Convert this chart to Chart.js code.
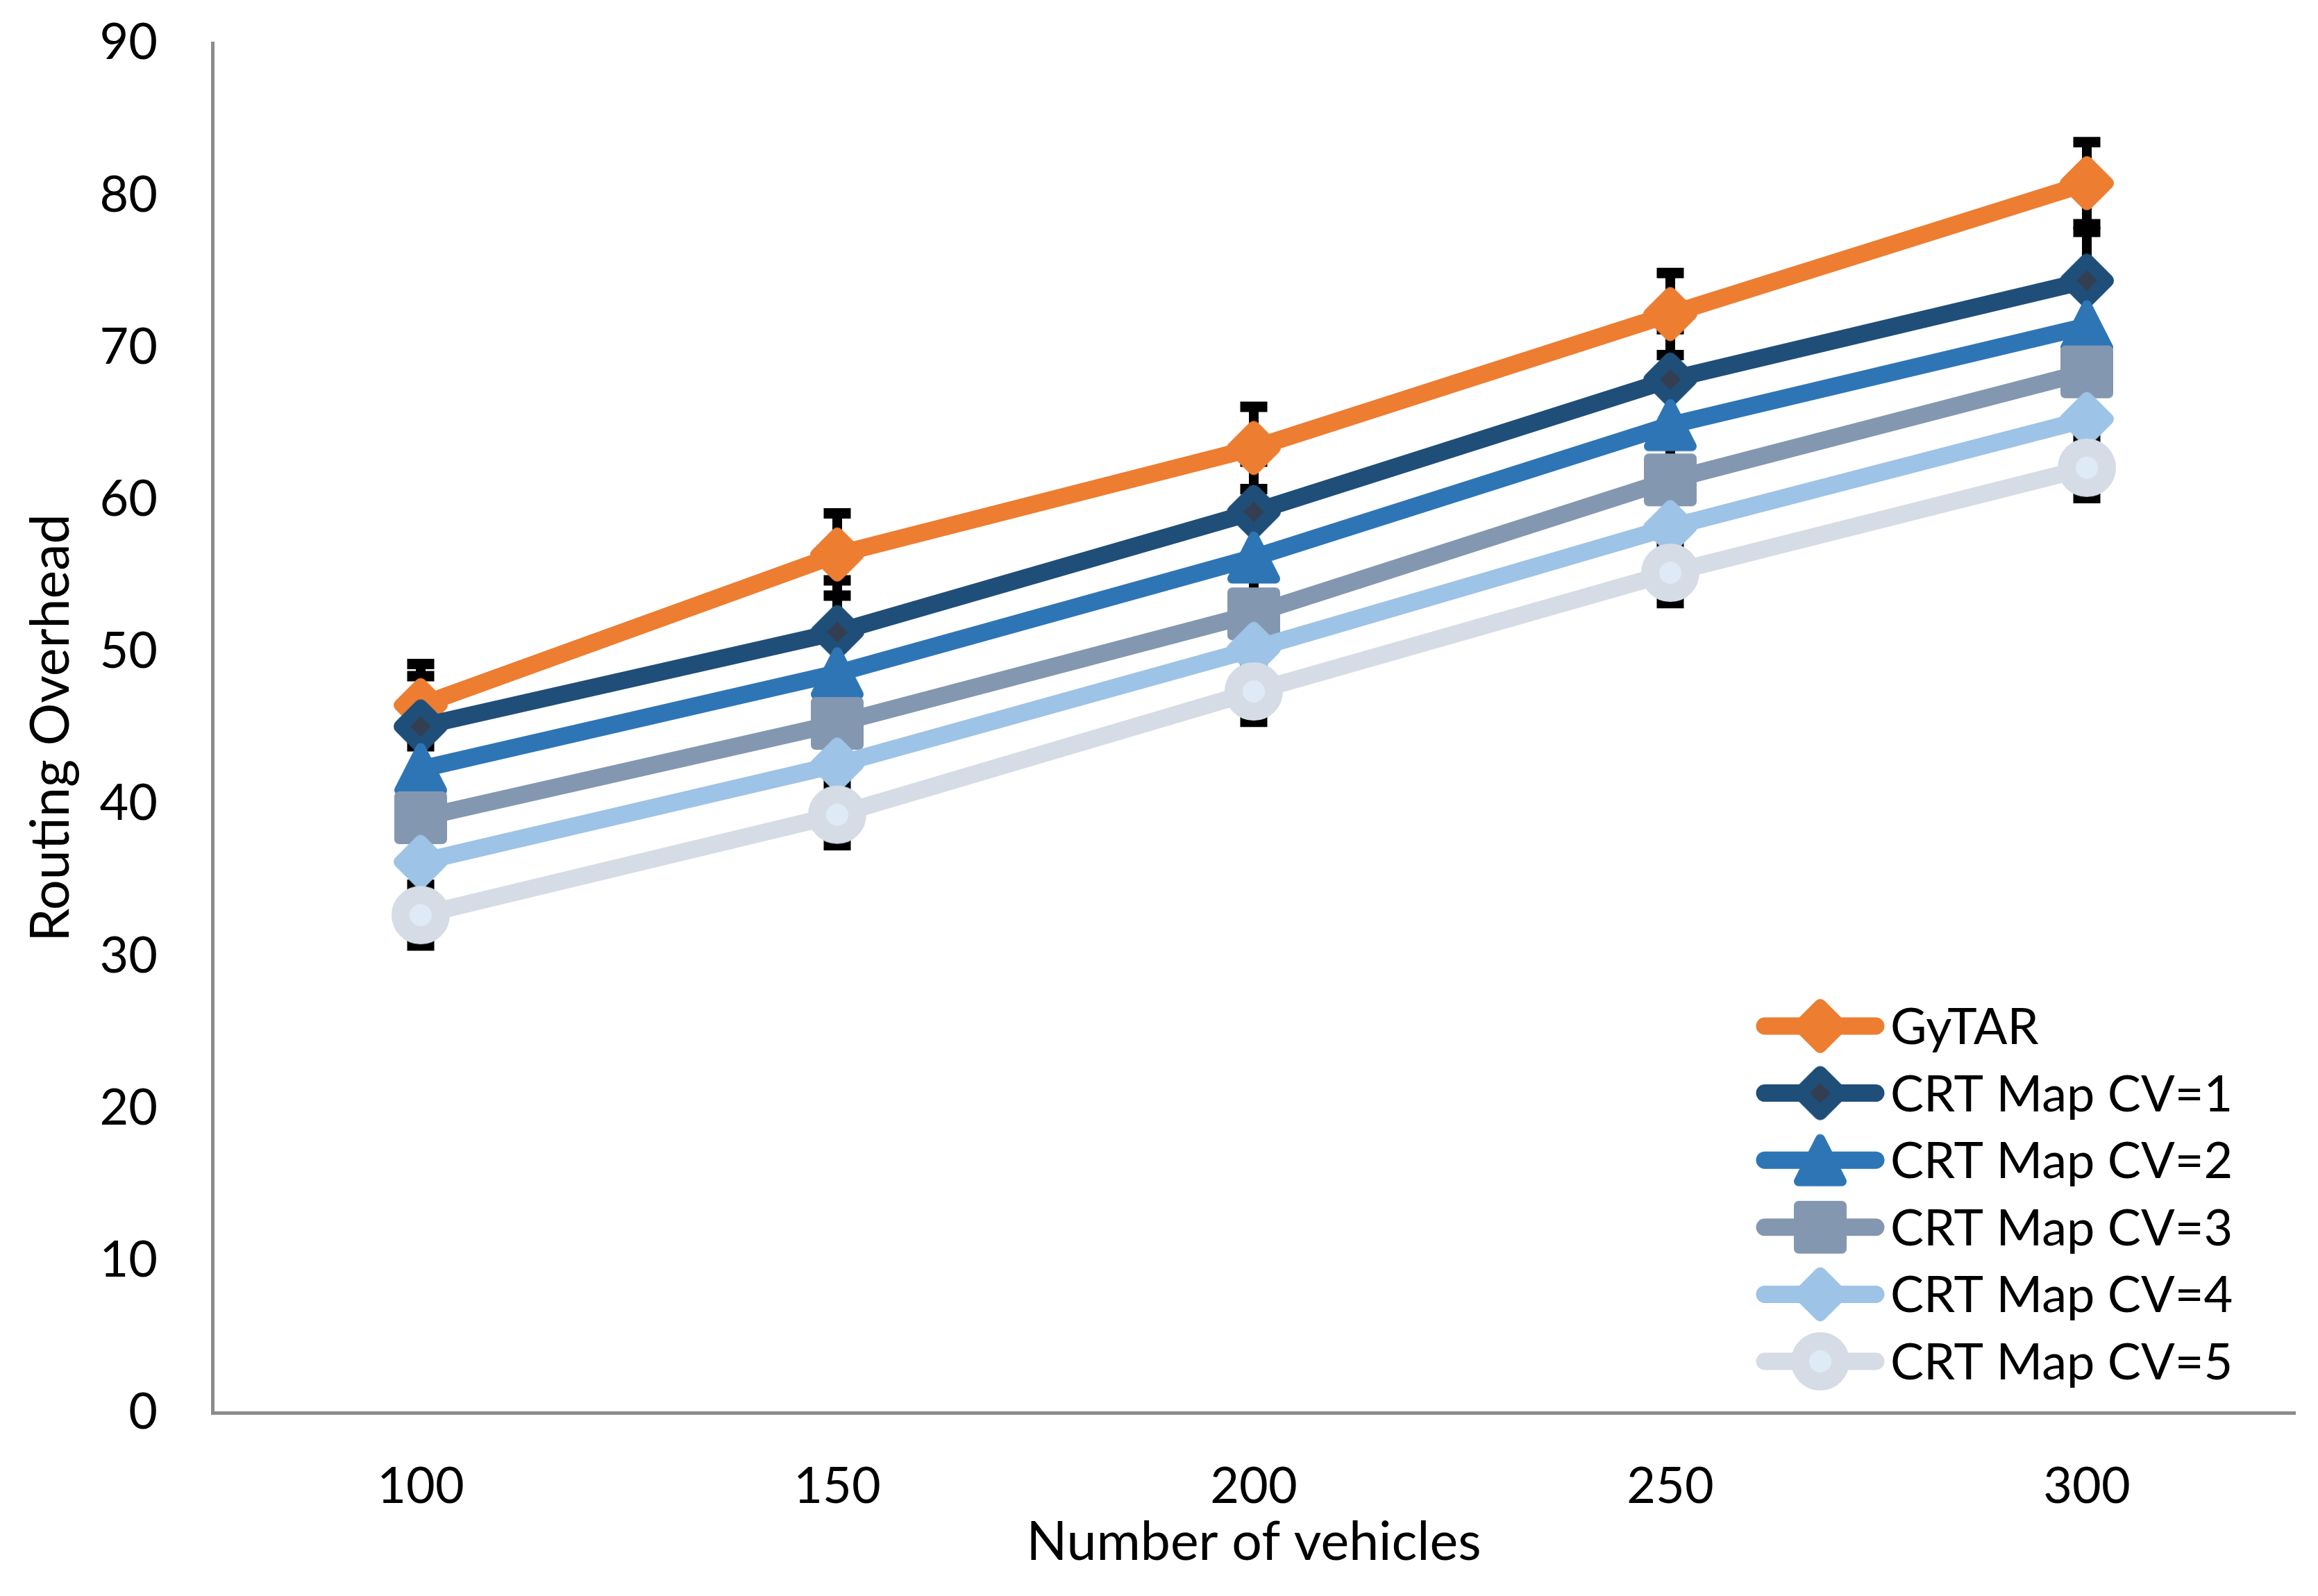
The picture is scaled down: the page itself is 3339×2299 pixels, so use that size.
<!DOCTYPE html>
<html><head><meta charset="utf-8">
<script src="https://cdn.jsdelivr.net/npm/chart.js@4.4.1/dist/chart.umd.min.js"></script>
<style>html,body{margin:0;padding:0;background:#fff;overflow:hidden}</style>
</head><body>
<canvas id="c" width="3339" height="2299" style="width:3339px;height:2299px;display:block"></canvas>
<script>
// ---- data ----
const categories = ['100', '150', '200', '250', '300'];
const seriesNames = ['GyTAR', 'CRT Map CV=1', 'CRT Map CV=2', 'CRT Map CV=3', 'CRT Map CV=4', 'CRT Map CV=5'];
const gytar = [46.5, 56.4, 63.4, 72.2, 80.8];
const cv1 = [45.1, 51.3, 59.2, 67.9, 74.4];
const cv2 = [42.3, 48.6, 56.2, 64.9, 71.4];
const cv3 = [39.1, 45.3, 52.5, 61.3, 68.4];
const cv4 = [36.2, 42.6, 50.2, 58.2, 65.3];
const cv5 = [32.7, 39.3, 47.4, 55.2, 62.1];
const gytarErr = [2.7, 2.7, 2.7, 2.7, 2.7];
const cv1Err = [3.3, 3.4, 3.3, 3.3, 3.2];
const cv2Err = [3.0, 3.0, 3.0, 3.0, 3.0];
const cv3Err = [2.8, 2.8, 2.8, 2.8, 2.8];
const cv4Err = [2.5, 2.5, 2.5, 2.5, 2.5];
const cv5Err = [2.0, 2.0, 2.0, 2.0, 2.0];
const yTicks = [0, 10, 20, 30, 40, 50, 60, 70, 80, 90];

const values = [gytar, cv1, cv2, cv3, cv4, cv5];
const errors = [gytarErr, cv1Err, cv2Err, cv3Err, cv4Err, cv5Err];

// ---- styles ----
const lineColors = ['#ED7D31', '#1F4E79', '#2E75B6', '#8497B0', '#9DC3E6', '#D6DCE5'];
const FONT = 'Lato';
const FS = 72;
const TITLE_FS = 77;

function makeMarker(kind, color) {
  const c = document.createElement('canvas');
  c.width = 100; c.height = 100;
  const g = c.getContext('2d');
  g.translate(50, 50);
  g.lineJoin = 'round';
  g.beginPath();
  if (kind === 'diamond') {
    g.moveTo(0, -30); g.lineTo(30, 0); g.lineTo(0, 30); g.lineTo(-30, 0); g.closePath();
    g.fillStyle = color; g.fill(); g.lineWidth = 18; g.strokeStyle = color; g.stroke();
  } else if (kind === 'diamondDark') {
    g.moveTo(0, -29); g.lineTo(29, 0); g.lineTo(0, 29); g.lineTo(-29, 0); g.closePath();
    g.fillStyle = '#333F50'; g.fill(); g.lineWidth = 20; g.strokeStyle = color; g.stroke();
  } else if (kind === 'triangle') {
    g.moveTo(0, -30.5); g.lineTo(31, 30.5); g.lineTo(-31, 30.5); g.closePath();
    g.fillStyle = color; g.fill(); g.lineWidth = 14; g.strokeStyle = color; g.stroke();
  } else if (kind === 'square') {
    g.rect(-31, -31, 62, 62);
    g.fillStyle = color; g.fill(); g.lineWidth = 14; g.strokeStyle = color; g.stroke();
  } else if (kind === 'circle') {
    g.arc(0, 0, 29, 0, Math.PI * 2);
    g.fillStyle = '#DEEBF7'; g.fill(); g.lineWidth = 26; g.strokeStyle = color; g.stroke();
  }
  return c;
}
const markerKinds = ['diamond', 'diamondDark', 'triangle', 'square', 'diamond', 'circle'];
const markers = markerKinds.map((k, i) => makeMarker(k, lineColors[i]));

// ---- plugins ----
const errorBarPlugin = {
  id: 'errorBars',
  beforeDatasetsDraw(chart) {
    const ctx = chart.ctx;
    const xs = chart.scales.x, ys = chart.scales.y;
    ctx.save();
    ctx.strokeStyle = '#000';
    ctx.lineCap = 'butt';
    errors.forEach((errs, i) => {
      values[i].forEach((v, j) => {
        const px = xs.getPixelForValue(j);
        const top = ys.getPixelForValue(v + errs[j]);
        const bot = ys.getPixelForValue(v - errs[j]);
        ctx.lineWidth = 14;
        ctx.beginPath(); ctx.moveTo(px, top); ctx.lineTo(px, bot); ctx.stroke();
        ctx.lineWidth = 15;
        ctx.beginPath();
        ctx.moveTo(px - 19.5, top); ctx.lineTo(px + 19.5, top);
        ctx.moveTo(px - 19.5, bot); ctx.lineTo(px + 19.5, bot);
        ctx.stroke();
      });
    });
    ctx.restore();
  }
};

const legendPlugin = {
  id: 'excelLegend',
  afterDraw(chart) {
    const ctx = chart.ctx;
    const x0 = 2542, x1 = 2702, mx = 2622, tx = 2723, y0 = 1478, dy = 96.6;
    ctx.save();
    chart.data.datasets.forEach((ds, i) => {
      const y = y0 + i * dy;
      ctx.strokeStyle = ds.borderColor;
      ctx.lineWidth = 25;
      ctx.lineCap = 'round';
      ctx.beginPath(); ctx.moveTo(x0, y); ctx.lineTo(x1, y); ctx.stroke();
      const m = ds.pointStyle;
      ctx.drawImage(m, mx - m.width / 2, y - m.height / 2);
      ctx.fillStyle = '#000';
      ctx.font = FS + 'px ' + FONT;
      ctx.textAlign = 'left';
      ctx.textBaseline = 'alphabetic';
      ctx.fillText(ds.label, tx, y + 26);
    });
    ctx.restore();
  }
};

// ---- chart ----
const datasets = seriesNames.map((name, i) => ({
  label: name,
  data: values[i],
  borderColor: lineColors[i],
  backgroundColor: lineColors[i],
  borderWidth: 25,
  borderCapStyle: 'round',
  borderJoinStyle: 'round',
  pointStyle: markers[i],
  pointRadius: 38,
  pointHoverRadius: 38,
  pointBorderWidth: 0,
  tension: 0,
  fill: false,
  clip: false,
  order: seriesNames.length - 1 - i
}));

new Chart(document.getElementById('c'), {
  type: 'line',
  data: { labels: categories, datasets },
  options: {
    responsive: false,
    devicePixelRatio: 1,
    animation: false,
    events: [],
    layout: { autoPadding: false, padding: { top: 0, right: 33, left: 0, bottom: 0 } },
    plugins: { legend: { display: false }, tooltip: { enabled: false } },
    scales: {
      x: {
        type: 'category',
        offset: true,
        grid: { display: false, drawTicks: false },
        border: { display: true, color: '#8C8C8C', width: 5 },
        ticks: { color: '#000', font: { family: FONT, size: FS }, padding: 64, maxRotation: 0 },
        title: { display: true, text: 'Number of vehicles', color: '#000', font: { family: FONT, size: TITLE_FS }, padding: { top: 0, bottom: 31 } },
        afterFit(s) { s.height = 264; s.paddingLeft = 0; s.paddingRight = 0; }
      },
      y: {
        type: 'linear',
        min: 0, max: 90,
        afterBuildTicks(s) { s.ticks = yTicks.map(v => ({ value: v })); },
        grid: { display: false, drawTicks: true, tickLength: 60, tickColor: 'rgba(0,0,0,0)' },
        border: { display: true, color: '#8C8C8C', width: 5 },
        ticks: { color: '#000', font: { family: FONT, size: FS }, padding: 19 },
        title: { display: true, text: 'Routing Overhead', color: '#000', font: { family: FONT, size: TITLE_FS }, padding: { top: 28, bottom: 0 } },
        afterFit(s) { s.width = 306; }
      }
    }
  },
  plugins: [errorBarPlugin, legendPlugin]
});
</script>
</body></html>
